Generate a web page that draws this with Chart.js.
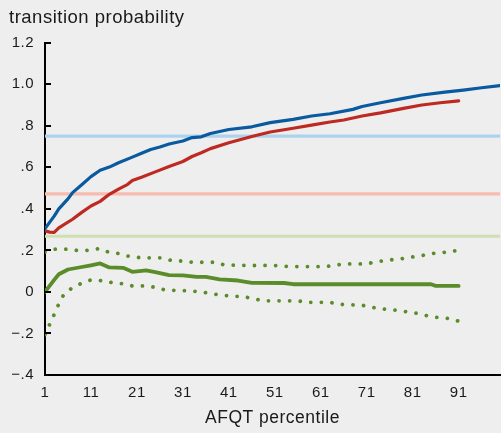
<!DOCTYPE html>
<html><head><meta charset="utf-8">
<script src="https://cdn.jsdelivr.net/npm/chart.js@4.4.1/dist/chart.umd.min.js"></script>
<style>html,body{margin:0;padding:0;background:#eeeeee;}#wrap{width:501px;height:433px;}</style>
</head><body><div id="wrap"><canvas id="c" width="501" height="433"></canvas></div>
<script>
const xTicks = [1, 11, 21, 31, 41, 51, 61, 71, 81, 91];
const yTickLabels = ['\u2212.4', '\u2212.2', '0', '.2', '.4', '.6', '.8', '1.0', '1.2'];

const bluePct = [1,3,4,6,7,9,11,13,15,17,20,22,24,26,28,31,33,35,37,41,46,50,55,59,63,68,70,74,79,83,88,92,96,100];
const blueVal = [.305,.365,.40,.448,.478,.516,.555,.586,.601,.622,.649,.668,.686,.698,.712,.727,.743,.747,.763,.782,.795,.815,.831,.847,.858,.879,.893,.911,.932,.948,.962,.972,.983,.993];

const redPct = [1,2,3,4,7,9,11,13,15,17,19,20,22,25,28,31,33,35,37,41,46,50,55,59,63,66,70,74,79,83,87,91];
const redVal = [.294,.288,.287,.308,.35,.383,.414,.436,.47,.495,.518,.536,.552,.578,.604,.628,.652,.67,.69,.718,.748,.77,.788,.803,.818,.828,.847,.862,.884,.9,.911,.92];

const greenPct = [1,3,4,6,9,11,13,15,18,20,23,25,28,31,34,36,39,43,46,53,55,85,86,91];
const greenVal = [0,.058,.085,.108,.12,.128,.137,.118,.116,.097,.104,.095,.081,.08,.072,.072,.06,.055,.044,.043,.037,.037,.029,.029];

const upperPct = [1,3,6,8,10,13,15,17,19,22,26,29,31,33,38,40,45,50,54,62,64,66,71,73,76,78,80,83,85,87,91];
const upperVal = [.193,.206,.206,.2,.2,.209,.19,.185,.173,.164,.164,.149,.149,.143,.143,.13,.127,.128,.122,.122,.128,.135,.135,.145,.154,.158,.165,.175,.185,.188,.2];

const lowerPct = [1,2,3,4,5,7,9,11,13,16,18,20,23,25,27,30,32,35,37,39,42,44,46,49,56,58,63,65,70,72,75,77,79,82,84,86,89,91];
const lowerVal = [-.205,-.157,-.108,-.058,-.016,.022,.042,.058,.055,.043,.039,.029,.029,.022,.01,.006,.006,0,-.008,-.014,-.021,-.021,-.032,-.043,-.043,-.05,-.05,-.06,-.064,-.074,-.083,-.087,-.093,-.103,-.114,-.122,-.128,-.141];

const refPct = [1, 100];
const refBlue = [.75, .75];
const refRed = [.472, .472];
const refGreen = [.268, .268];

function pts(xs, ys) { return xs.map((x, i) => ({x: x, y: ys[i]})); }

const FONT = "'Liberation Sans', Arial, Helvetica, sans-serif";

function spacing(chart) { try { chart.ctx.letterSpacing = '0.5px'; } catch (e) {} }
const bgPlugin = {
  id: 'bg',
  beforeUpdate: spacing, beforeLayout: spacing,
  beforeDraw(chart) {
    spacing(chart);
    const ctx = chart.ctx;
    ctx.save(); ctx.fillStyle = '#eeeeee'; ctx.fillRect(0, 0, chart.width, chart.height); ctx.restore();
  }
};
const inTicks = {
  id: 'inTicks',
  afterDraw(chart) {
    const ys = chart.scales.y, ctx = chart.ctx, left = chart.chartArea.left;
    ctx.save(); ctx.strokeStyle = '#000'; ctx.lineWidth = 2;
    ys.ticks.forEach(t => {
      const y = Math.round(ys.getPixelForValue(t.value));
      ctx.beginPath(); ctx.moveTo(left, y); ctx.lineTo(left + 6, y); ctx.stroke();
    });
    ctx.restore();
  }
};

const lineDs = (label, data, color, w, extra) => Object.assign({
  label, data, borderColor: color, borderWidth: w, pointRadius: 0, tension: 0,
  fill: false, borderCapStyle: 'round', borderJoinStyle: 'round'
}, extra || {});

new Chart(document.getElementById('c'), {
  type: 'line',
  data: {
    datasets: [
      lineDs('blue', pts(bluePct, blueVal), '#0a5aa0', 3.2),
      lineDs('red', pts(redPct, redVal), '#be2a22', 3.2),
      lineDs('green', pts(greenPct, greenVal), '#5b8c2a', 3.8),
      lineDs('upper', pts(upperPct, upperVal), '#5b8c2a', 3.8, {borderDash: [0.01, 10.6]}),
      lineDs('lower', pts(lowerPct, lowerVal), '#5b8c2a', 3.8, {borderDash: [0.01, 10.6]}),
      lineDs('refBlue', pts(refPct, refBlue), '#acd3ee', 3.2, {borderCapStyle: 'butt'}),
      lineDs('refRed', pts(refPct, refRed), '#f8bbb0', 3.2, {borderCapStyle: 'butt'}),
      lineDs('refGreen', pts(refPct, refGreen), '#cfdfb2', 3.2, {borderCapStyle: 'butt'})
    ]
  },
  options: {
    responsive: false, animation: false, devicePixelRatio: 1,
    layout: { padding: { left: 9, right: 1, top: 0, bottom: 0 } },
    plugins: {
      legend: { display: false }, tooltip: { enabled: false },
      title: { display: true, text: 'transition probability', align: 'start', color: '#1a1a1a',
        font: { family: FONT, size: 18.5, weight: 'normal' }, padding: { top: 7, bottom: 13.5 } }
    },
    scales: {
      x: {
        type: 'linear', min: 1, max: 100,
        afterBuildTicks(s) { s.ticks = xTicks.map(v => ({value: v})); },
        afterFit(s) { s.height = 58; },
        grid: { display: false, drawTicks: false },
        border: { display: true, color: '#000', width: 2 },
        ticks: { color: '#1a1a1a', font: { family: FONT, size: 15 }, padding: 9, maxRotation: 0, autoSkip: false },
        title: { display: true, text: 'AFQT percentile', color: '#1a1a1a', font: { family: FONT, size: 17.5 }, padding: { top: 0, bottom: 4.5 } }
      },
      y: {
        min: -0.4, max: 1.2,
        afterFit(s) { s.width = 36; },
        ticks: { stepSize: 0.2, color: '#1a1a1a', font: { family: FONT, size: 15 }, padding: 11,
          callback: (v, i) => yTickLabels[i] },
        grid: { display: false, drawTicks: false },
        border: { display: true, color: '#000', width: 2 }
      }
    }
  },
  plugins: [bgPlugin, inTicks]
});
</script></body></html>
